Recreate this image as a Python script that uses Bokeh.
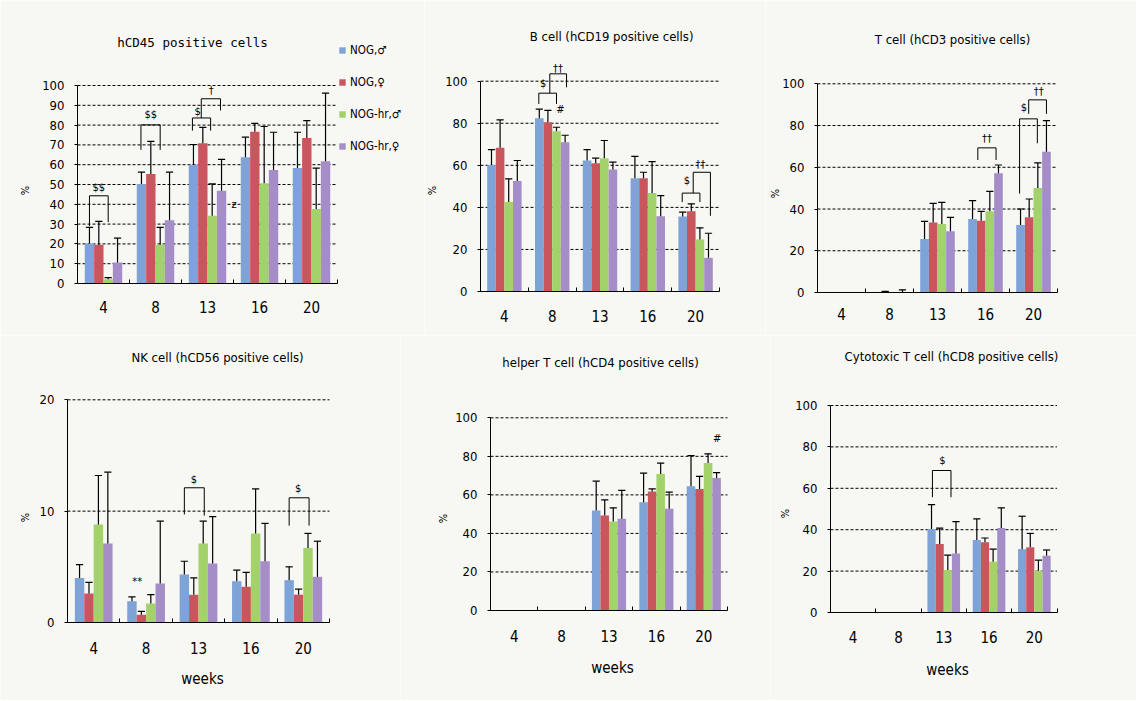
import math
from bokeh.plotting import figure
from bokeh.layouts import column, row
from bokeh.models import FixedTicker, Label, Legend, LegendItem, Range1d
from bokeh.core.properties import value
from bokeh.embed import file_html
from bokeh.resources import INLINE

# ---------------- data ----------------
weeks = ["4", "8", "13", "16", "20"]
groups = ["NOG,\u2642", "NOG,\u2640", "NOG-hr,\u2642", "NOG-hr,\u2640"]

cd45_mean = [[20.2, 50.3, 60.0, 63.7, 58.3],
             [19.6, 55.3, 70.8, 76.7, 73.5],
             [2.2, 19.6, 34.2, 50.6, 37.6],
             [10.6, 32.0, 46.9, 57.3, 61.7]]
cd45_sd = [[8.1, 5.9, 10.2, 10.2, 18.1],
           [11.8, 16.5, 8.1, 4.2, 8.8],
           [0.8, 8.7, 16.1, 28.7, 20.7],
           [12.3, 24.2, 15.8, 19.1, 34.4]]

cd19_mean = [[60.2, 82.4, 62.3, 53.9, 35.7],
             [68.3, 80.5, 61.0, 53.9, 38.2],
             [42.5, 76.2, 63.4, 46.8, 24.7],
             [52.5, 71.0, 58.0, 35.8, 16.0]]
cd19_sd = [[7.3, 4.3, 5.2, 10.4, 2.0],
           [13.3, 5.6, 2.4, 2.8, 3.5],
           [11.1, 1.9, 8.4, 15.0, 5.6],
           [9.8, 3.3, 3.5, 9.8, 11.7]]

cd3_mean = [[0, 0, 25.6, 35.2, 32.3],
            [0, 0.2, 33.6, 34.4, 36.0],
            [0, 0, 32.8, 38.9, 50.1],
            [0, 0.2, 29.3, 57.1, 67.5]]
cd3_sd = [[0, 0, 8.5, 8.8, 7.7],
          [0, 0.3, 9.1, 4.5, 8.8],
          [0, 0, 10.4, 9.6, 12.0],
          [0, 1.1, 6.7, 4.0, 14.9]]

cd56_mean = [[4.0, 1.9, 4.3, 3.7, 3.8],
             [2.6, 0.7, 2.5, 3.2, 2.5],
             [8.8, 1.7, 7.1, 8.0, 6.7],
             [7.1, 3.5, 5.3, 5.5, 4.1]]
cd56_sd = [[1.2, 0.4, 1.2, 1.0, 1.2],
           [1.0, 0.3, 1.5, 1.3, 0.5],
           [4.4, 0.8, 2.0, 4.0, 1.3],
           [6.4, 5.6, 4.2, 3.4, 3.2]]

cd4_mean = [[0, 0, 51.9, 56.2, 64.5],
            [0, 0, 49.3, 61.8, 63.1],
            [0, 0, 46.2, 70.9, 76.5],
            [0, 0, 47.6, 52.8, 68.7]]
cd4_sd = [[0, 0, 15.2, 15.1, 15.9],
          [0, 0, 8.1, 1.3, 6.5],
          [0, 0, 7.1, 5.6, 4.8],
          [0, 0, 14.7, 8.6, 2.8]]

cd8_mean = [[0, 0, 40.3, 35.0, 30.6],
            [0, 0, 33.1, 33.9, 31.5],
            [0, 0, 20.5, 24.5, 20.2],
            [0, 0, 28.5, 40.8, 27.4]]
cd8_sd = [[0, 0, 11.8, 10.2, 15.9],
          [0, 0, 7.7, 2.1, 6.7],
          [0, 0, 7.2, 6.1, 5.1],
          [0, 0, 15.4, 9.7, 2.8]]

ticks_10 = [0, 10, 20, 30, 40, 50, 60, 70, 80, 90, 100]
ticks_20 = [0, 20, 40, 60, 80, 100]
ticks_nk = [0, 10, 20]

# significance brackets: (week idx, left off, right off, top, left foot, right foot, text, text off, text y)
notes_cd45 = [(0, -0.27, 0.09, 44.3, 29.0, 31.0, "$$", -0.09, 48.5),
              (1, -0.28, 0.09, 80.1, 67.5, 67.5, "$$", -0.09, 85.2),
              (2, -0.29, 0.06, 83.6, 77.2, 77.2, "$", -0.19, 86.8),
              (2, -0.12, 0.25, 93.3, 83.6, 87.4, "\u2020", 0.07, 97.6)]
marks_cd45 = [(2, 0.51, 39.8, "\u01b6")]
notes_cd19 = [(1, -0.28, 0.09, 94.3, 89.2, 89.2, "$", -0.19, 98.7),
              (1, -0.05, 0.30, 103.5, 94.3, 97.1, "\u2020\u2020", 0.12, 106.2),
              (4, -0.28, 0.09, 46.8, 42.5, 42.5, "$", -0.18, 52.8),
              (4, -0.05, 0.31, 56.7, 46.8, 36.0, "\u2020\u2020", 0.10, 60.2)]
marks_cd19 = [(1, 0.17, 86.4, "#")]
notes_cd3 = [(3, -0.16, 0.22, 69.3, 63.5, 63.5, "\u2020\u2020", 0.03, 73.8),
             (4, -0.29, 0.08, 83.2, 47.4, 71.5, "$", -0.20, 88.5),
             (4, -0.10, 0.27, 92.3, 85.6, 85.6, "\u2020\u2020", 0.11, 96.2)]
notes_cd56 = [(2, -0.27, 0.11, 12.1, 9.7, 9.6, "$", -0.09, 12.8),
              (4, -0.27, 0.11, 11.2, 8.7, 8.7, "$", -0.10, 12.0)]
marks_cd56 = [(1, -0.17, 3.7, "**")]
marks_cd4 = [(4, 0.28, 89.1, "#")]
notes_cd8 = [(2, -0.25, 0.16, 68.6, 55.7, 55.7, "$", -0.03, 73.4)]

# ---------------- style ----------------
BG = "#f7f7f3"
COLORS = ["#7ea3d6", "#c9565d", "#a3d26a", "#a58dc7"]
NARROW = "'Liberation Sans Narrow', 'Arial Narrow', 'DejaVu Sans Condensed', sans-serif"
MONO = "'DejaVu Sans Mono', monospace"
OFFS = [-0.27, -0.09, 0.09, 0.27]
BAR_W = 0.18


def to_data(g, px, py):
    ppu = (g["axis_y"] - g["top_px"]) / g["top_val"]
    return (-0.5 + (px - g["axis_x"]) / g["cat_w"], (g["axis_y"] - py) / ppu)


def build(g, means, sds, ticks, title, title_pos, title_font, title_size,
          pct_pos, x_standoff, notes=(), marks=(), weeks_pos=None, legend_at=None):
    x_start, y_end = to_data(g, g["x0"], g["y0"])
    x_end, y_start = to_data(g, g["x0"] + g["w"], g["y0"] + g["h"])
    p = figure(width=g["w"], height=g["h"],
               x_range=Range1d(x_start, x_end), y_range=Range1d(y_start, y_end),
               min_border_left=0, min_border_right=0, min_border_top=0,
               min_border_bottom=0, output_backend="svg", toolbar_location=None,
               background_fill_color=BG, border_fill_color=BG, outline_line_color=None)
    p.xgrid.visible = False
    p.ygrid.visible = False

    xa = p.xaxis[0]
    xa.fixed_location = 0
    xa.ticker = FixedTicker(ticks=[0, 1, 2, 3, 4], minor_ticks=[-0.5, 0.5, 1.5, 2.5, 3.5, 4.5])
    xa.major_label_overrides = {i: w for i, w in enumerate(weeks)}
    xa.bounds = (-0.5, 4.5)
    xa.major_tick_line_color = None
    xa.minor_tick_in = 4
    xa.minor_tick_out = 0
    xa.minor_tick_line_color = "black"
    xa.axis_line_color = "black"
    xa.major_label_standoff = x_standoff
    xa.major_label_text_font = NARROW
    xa.major_label_text_font_size = "15px"
    xa.major_label_text_color = "black"

    ya = p.yaxis[0]
    ya.fixed_location = -0.5
    ya.ticker = FixedTicker(ticks=ticks)
    ya.bounds = (0, g["top_val"])
    ya.major_tick_in = 0
    ya.major_tick_out = 3
    ya.major_tick_line_color = "black"
    ya.axis_line_color = "black"
    ya.major_label_standoff = 10
    ya.major_label_text_font = NARROW
    ya.major_label_text_font_size = "13px"
    ya.major_label_text_color = "black"

    # dashed grid lines at the tick values
    gl = ticks[1:]
    p.segment(x0=[-0.5] * len(gl), y0=gl, x1=[4.5] * len(gl), y1=gl,
              line_color="black", line_width=1, line_dash="3 2")

    bar_rs = []
    ex0, ey0, ex1, ey1 = [], [], [], []
    cap = 3.6 / g["cat_w"]
    for j in range(4):
        xs = [i + OFFS[j] for i in range(5)]
        r = p.vbar(x=xs, top=means[j], bottom=0, width=BAR_W,
                   fill_color=COLORS[j], line_color=None)
        bar_rs.append(r)
        for i in range(5):
            if sds[j][i] > 0:
                hi = means[j][i] + sds[j][i]
                ex0 += [xs[i], xs[i] - cap]
                ex1 += [xs[i], xs[i] + cap]
                ey0 += [means[j][i], hi]
                ey1 += [hi, hi]
    p.segment(x0=ex0, y0=ey0, x1=ex1, y1=ey1, line_color="black", line_width=1.2)

    # significance brackets
    bxs, bys, tx, ty, tt = [], [], [], [], []
    for (k, lo, ro, top, lf, rf, txt, to, tyy) in notes:
        bxs.append([k + lo, k + lo, k + ro, k + ro])
        bys.append([lf, top, top, rf])
        tx.append(k + to)
        ty.append(tyy)
        tt.append(txt)
    for (k, o, yy, txt) in marks:
        tx.append(k + o)
        ty.append(yy)
        tt.append(txt)
    if bxs:
        p.multi_line(xs=bxs, ys=bys, line_color="black", line_width=1)
    if tt:
        p.text(x=tx, y=ty, text=tt, text_font=value(NARROW), text_font_size=value("11px"),
               text_align="center", text_baseline="middle", text_color="black")

    # title
    tx0, ty0 = to_data(g, *title_pos)
    p.add_layout(Label(x=tx0, y=ty0, text=title, text_font=title_font,
                       text_font_size=title_size, text_align="center",
                       text_baseline="middle", text_color="black"))
    # % label
    px0, py0 = to_data(g, *pct_pos)
    p.add_layout(Label(x=px0, y=py0, text="%", text_font=NARROW, text_font_size="11px",
                       text_align="center", text_baseline="middle", angle=math.pi / 2,
                       text_color="black"))
    if weeks_pos is not None:
        wx, wy = to_data(g, *weeks_pos)
        p.add_layout(Label(x=wx, y=wy, text="weeks", text_font=NARROW,
                           text_font_size="15px", text_align="center",
                           text_baseline="middle", text_color="black"))
    if legend_at is not None:
        items = [LegendItem(label=groups[j], renderers=[bar_rs[j]]) for j in range(4)]
        lg = Legend(items=items, location=legend_at, orientation="vertical",
                    padding=0, margin=0, spacing=12, label_height=20,
                    glyph_height=8, glyph_width=8, label_standoff=4,
                    border_line_color=None, background_fill_alpha=0,
                    label_text_font=NARROW, label_text_font_size="11.5px",
                    label_text_color="black")
        p.add_layout(lg)
    return p


g1 = dict(x0=0, y0=0, w=424, h=335, axis_x=77, axis_y=283, cat_w=52.0, top_px=85.0, top_val=100)
g2 = dict(x0=424, y0=0, w=341, h=335, axis_x=480, axis_y=291, cat_w=47.8, top_px=80.7, top_val=100)
g3 = dict(x0=765, y0=0, w=371, h=335, axis_x=817, axis_y=292, cat_w=48.0, top_px=83.3, top_val=100)
g4 = dict(x0=0, y0=335, w=400, h=365, axis_x=67, axis_y=622, cat_w=52.4, top_px=399.3, top_val=20)
g5 = dict(x0=400, y0=335, w=370, h=365, axis_x=490, axis_y=610, cat_w=47.4, top_px=417.3, top_val=100)
g6 = dict(x0=770, y0=335, w=366, h=365, axis_x=830, axis_y=612, cat_w=45.3, top_px=405.0, top_val=100)

p1 = build(g1, cd45_mean, cd45_sd, ticks_10, "hCD45 positive cells", (192, 42), MONO, "12.5px",
           (25, 190), 11, notes_cd45, marks_cd45, legend_at=(338, 179))
p2 = build(g2, cd19_mean, cd19_sd, ticks_20, "B cell  (hCD19 positive cells)", (613, 36), NARROW,
           "13px", (432, 190), 12, notes_cd19, marks_cd19)
p3 = build(g3, cd3_mean, cd3_sd, ticks_20, "T cell (hCD3 positive cells)", (952, 39), NARROW,
           "13px", (775, 193), 9, notes_cd3)
p4 = build(g4, cd56_mean, cd56_sd, ticks_nk, "NK cell (hCD56 positive cells)", (217, 357), NARROW,
           "13px", (25, 517), 13, notes_cd56, marks_cd56, weeks_pos=(202, 678))
p5 = build(g5, cd4_mean, cd4_sd, ticks_20, "helper T cell (hCD4 positive cells)", (600, 362), NARROW,
           "13px", (443, 518), 13, (), marks_cd4, weeks_pos=(612, 667))
p6 = build(g6, cd8_mean, cd8_sd, ticks_20, "Cytotoxic T cell (hCD8 positive cells)", (951, 356), NARROW,
           "13px", (785, 513), 12, notes_cd8, weeks_pos=(947, 669))

layout = column(row(p1, p2, p3, spacing=0), row(p4, p5, p6, spacing=0), spacing=0)
open("out.html", "w").write(file_html(layout, INLINE))
